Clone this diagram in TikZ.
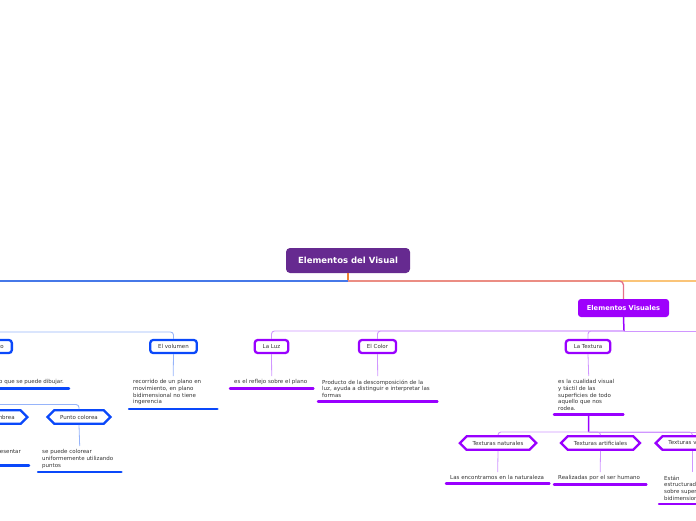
\documentclass[tikz,border=0pt]{standalone}
\usepackage{fontspec}
\setmainfont{DejaVu Sans}
\usetikzlibrary{shapes.symbols}

\definecolor{mainpurple}{RGB}{102,42,144}
\definecolor{evviolet}{RGB}{158,0,252}
\definecolor{violettopic}{RGB}{153,0,255}
\definecolor{violetbranch}{RGB}{208,150,255}
\definecolor{bluetopic}{RGB}{10,72,250}
\definecolor{bluebranch}{RGB}{150,180,250}
\definecolor{blueline}{RGB}{70,120,232}
\definecolor{orangeline}{RGB}{240,128,50}
\definecolor{pinkline}{RGB}{228,112,138}
\definecolor{lightorange}{RGB}{250,196,120}
\definecolor{textgray}{RGB}{51,51,51}

\newcommand\descfont{\fontsize{5.5}{6.7}\selectfont\hyphenpenalty=10000\exhyphenpenalty=10000}

\tikzset{
	mainnode/.style={fill=mainpurple, rounded corners=4pt, text=white, font=\fontsize{8.5}{10}\selectfont\bfseries, minimum width=124pt, minimum height=25pt},
	evnode/.style={fill=evviolet, rounded corners=3pt, text=white, font=\fontsize{6.7}{8}\selectfont\bfseries, minimum width=91pt, minimum height=18pt},
	topic/.style={draw=#1, line width=2.3pt, rounded corners=3pt, fill=white, text=textgray, font=\descfont, inner xsep=8pt, minimum height=13pt},
	hexa/.style={signal, signal to=west and east, draw=#1, line width=2.3pt, fill=white, text=textgray, font=\descfont, inner xsep=6pt, minimum height=13.5pt},
	desc/.style={text=textgray, font=\descfont, align=left, inner xsep=4pt, inner ysep=3.5pt, anchor=north west},
	uline/.style={draw=#1, line width=2.5pt, line cap=round},
	branch/.style={draw=#1, line width=0.9pt, rounded corners=3pt},
	twig/.style={draw=#1, line width=0.8pt},
	stem/.style={draw=#1, line width=1.5pt}
}

\begin{document}
\begin{tikzpicture}[x=1pt,y=-1pt]
	\useasboundingbox (0,0) rectangle (696,520);
	\clip (0,0) rectangle (696,520);

	\node[mainnode] (main) at (348,260.5) {Elementos del Visual};
	\node[evnode] (ev) at (623.5,308) {Elementos Visuales};

	\coordinate (mbus) at (348,281);
	\draw[stem=orangeline] (main.south) -- (mbus);
	\draw[line width=1.3pt, draw=lightorange] (mbus) -- (710,281);
	\draw[line width=1.3pt, draw=blueline] (mbus) -- (-10,281);
	\draw[line width=1.3pt, draw=pinkline, rounded corners=4pt] (mbus) -| (ev.north);

	% right side
	\node[topic=violettopic] (luz) at (271.5,346.5) {La Luz};
	\node[topic=violettopic] (color) at (377.5,346.5) {El Color};
	\node[topic=violettopic] (textura) at (588,346.5) {La Textura};
	\coordinate (evbus) at (624,331);
	\draw[stem=violettopic] (ev.south) -- (evbus);
	\foreach \n in {luz,color,textura}
		\draw[branch=violetbranch] (evbus) -| (\n.north);
	\draw[branch=violetbranch] (evbus) -- (710,331);

	\node[desc, text width=75pt] (luzd) at (230,376) {es el reflejo sobre el plano};
	\node[desc, text width=111pt] (colord) at (318,376) {Producto de la descomposición de la\\ luz, ayuda a distinguir e interpretar las\\ formas};
	\node[desc, text width=61pt] (texturad) at (554,376) {es la cualidad visual\\ y táctil de las\\ superficies de todo\\ aquello que nos\\ rodea.};

	\node[hexa=violettopic] (natur) at (498,443) {Texturas naturales};
	\node[hexa=violettopic] (artif) at (600.5,443) {Texturas artificiales};
	\node[hexa=violettopic, anchor=west, text width=48pt, align=left] (visu) at (654,443) {Texturas v};
	\coordinate (tbus) at (588.5,432);
	\draw[stem=violettopic] (texturad.south) -- (tbus);
	\foreach \n in {natur,artif,visu}
		\draw[branch=violetbranch] (tbus) -| (\n.north);
	\draw[branch=violetbranch] (tbus) -- (710,432);

	\node[desc, text width=95pt] (naturd) at (446,472) {Las encontramos en la naturaleza};
	\node[desc, text width=84pt] (artifd) at (554,472) {Realizadas por el ser humano};
	\node[desc, inner xsep=5pt] (visud) at (659,472) {Están\\ estructurad\\ sobre super\\ bidimension};

	\foreach \n in {luz,color,textura,natur,artif}
		\draw[twig=violetbranch] (\n.south) -- (\n d.north);
	\draw[twig=violetbranch] (visu.south) -- (visu.south |- visud.north);
	\foreach \d in {luzd,colord,texturad,naturd,artifd,visud}
		\draw[uline=violettopic] (\d.south west) -- (\d.south east);

	% left side
	\node[topic=bluetopic, anchor=east, text width=20pt, align=right] (punto) at (13,346.5) {to};
	\node[topic=bluetopic] (volumen) at (173.5,346.5) {El volumen};
	\coordinate (bbus) at (-10,332);
	\draw[branch=bluebranch] (bbus) -| (volumen.north);

	\node[desc, anchor=north east, inner xsep=5pt] (puntod) at (69,376) {o que se puede dibujar.};
	\node[desc, text width=80pt] (volumend) at (129,376) {recorrido de un plano en\\ movimiento, en plano\\ bidimensional no tiene\\ ingerencia};
	\draw[twig=bluebranch] (volumen.south) -- (volumend.north);

	\node[hexa=bluetopic, anchor=east, text width=40pt, align=right] (sombrea) at (29,417) {nbrea};
	\node[hexa=bluetopic] (colorea) at (79,417) {Punto colorea};
	\coordinate (cbus) at (-10,404.5);
	\draw[branch=bluebranch] (cbus) -| (colorea.north);

	\node[desc, anchor=north east, inner xsep=8pt, text depth=8pt] (sombread) at (29,446) {esentar};
	\node[desc, text width=75pt] (coloread) at (38,446) {se puede colorear\\ uniformemente utilizando\\ puntos};
	\draw[twig=bluebranch] (colorea.south) -- (coloread.north);
	\foreach \d in {puntod,volumend,sombread,coloread}
		\draw[uline=bluetopic] (\d.south west) -- (\d.south east);
\end{tikzpicture}
\end{document}
